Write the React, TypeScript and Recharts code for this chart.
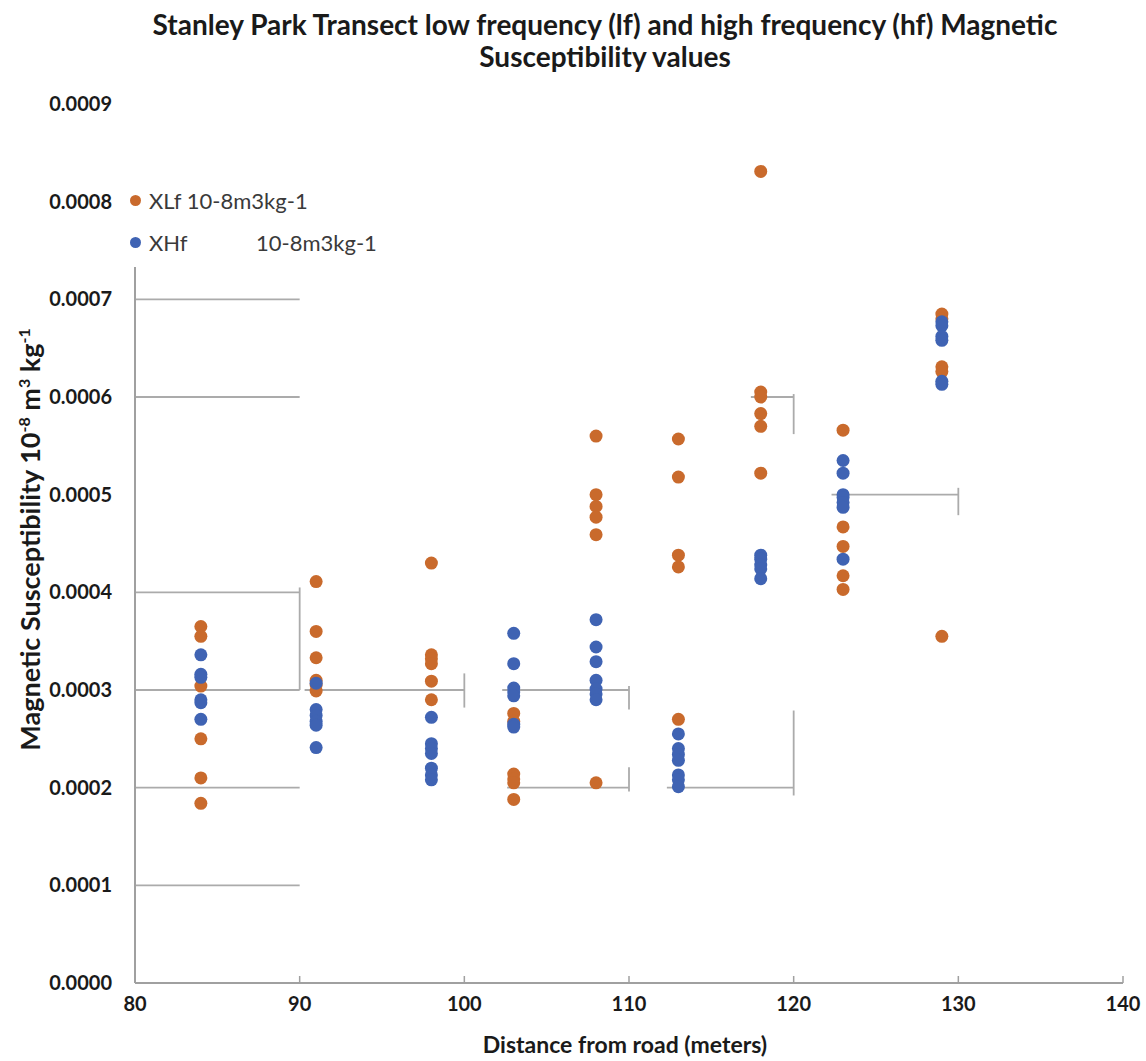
import React from "react";
import {
  ScatterChart,
  Scatter,
  XAxis,
  YAxis,
  ReferenceLine,
  Legend,
} from "recharts";

// Sampling positions along the transect (metres from the road)
const SITES = [84, 91, 98, 103, 108, 113, 118, 123, 129];

// Low-frequency susceptibility readings, one list per site
const XLF_READINGS = [
  [0.000365, 0.000355, 0.000304, 0.00025, 0.00021, 0.000184],
  [0.000411, 0.00036, 0.000333, 0.00031, 0.000305, 0.000299],
  [0.00043, 0.000336, 0.000332, 0.000327, 0.000309, 0.00029],
  [0.000276, 0.000268, 0.000214, 0.000209, 0.000205, 0.000188],
  [0.00056, 0.0005, 0.000488, 0.000477, 0.000459, 0.000205],
  [0.000557, 0.000518, 0.000438, 0.000426, 0.00027],
  [0.000831, 0.000605, 0.0006, 0.000583, 0.00057, 0.000522],
  [0.000566, 0.000467, 0.000447, 0.000417, 0.000403],
  [0.000685, 0.00068, 0.000631, 0.000626, 0.000355],
];

// High-frequency susceptibility readings, one list per site
const XHF_READINGS = [
  [0.000336, 0.000316, 0.000313, 0.00029, 0.000287, 0.00027],
  [0.000307, 0.00028, 0.000274, 0.000268, 0.000264, 0.000241],
  [0.000272, 0.000245, 0.00024, 0.000235, 0.00022, 0.000213, 0.000208],
  [0.000358, 0.000327, 0.000302, 0.000298, 0.000294, 0.000265, 0.000262],
  [0.000372, 0.000344, 0.000329, 0.00031, 0.000301, 0.000296, 0.00029],
  [0.000255, 0.00024, 0.000234, 0.000228, 0.000213, 0.000208, 0.000201],
  [0.000438, 0.000434, 0.000428, 0.000424, 0.000414],
  [0.000535, 0.000522, 0.0005, 0.000497, 0.000492, 0.000487, 0.000434],
  [0.000677, 0.000673, 0.000662, 0.000658, 0.000616, 0.000613],
];

const X_TICKS = [80, 90, 100, 110, 120, 130, 140];
const Y_TICKS = [0, 0.0001, 0.0002, 0.0003, 0.0004, 0.0005, 0.0006, 0.0007, 0.0008, 0.0009];

const XLF_NAME = "XLf 10-8m3kg-1";
const XHF_NAME = "XHf";
const XHF_UNIT = "10-8m3kg-1";

// Broken grid fragments as drawn on the chart: [x1, y1, x2, y2]
const GRID_SEGMENTS = [
  [80, 0.0007, 90, 0.0007],
  [80, 0.0006, 90, 0.0006],
  [80, 0.0004, 90, 0.0004],
  [80, 0.0003, 90, 0.0003],
  [80, 0.0002, 90, 0.0002],
  [80, 0.0001, 90, 0.0001],
  [90.3, 0.0003, 100, 0.0003],
  [102.3, 0.0003, 110, 0.0003],
  [102.6, 0.0002, 110, 0.0002],
  [112.3, 0.0002, 120, 0.0002],
  [117.4, 0.0006, 120, 0.0006],
  [122.3, 0.0005, 130, 0.0005],
  [90, 0.000405, 90, 0.0003],
  [100, 0.000317, 100, 0.000282],
  [110, 0.000304, 110, 0.00028],
  [110, 0.000221, 110, 0.000196],
  [120, 0.000279, 120, 0.000192],
  [120, 0.000603, 120, 0.000562],
  [130, 0.000507, 130, 0.000479],
];
// Vertical axis line stops short of the top of the plot
const Y_AXIS_SEGMENT = [80, 0, 80, 0.000733];

const ORANGE = "#C96A2C";
const BLUE = "#3F63B3";
const GRID = "#ABABAB";
const AXIS = "#A0A0A0";
const FONT = "Lato, 'Open Sans', sans-serif";
const X_TICK_MARGIN = 10;

const toPoints = (readings: number[][]) =>
  readings.flatMap((vals, i) => vals.map((v) => ({ x: SITES[i], y: v })));

const xlfData = toPoints(XLF_READINGS);
const xhfData = toPoints(XHF_READINGS);

const Dot = (color: string) => (props: any) =>
  <circle cx={props.cx} cy={props.cy} r={6.5} fill={color} />;

const XTick = (props: any) => {
  const { x, y, payload } = props;
  const axisY = y - X_TICK_MARGIN;
  return (
    <g>
      <line x1={x} x2={x} y1={axisY} y2={axisY - 7} stroke={AXIS} strokeWidth={1.5} />
      <text
        x={x}
        y={axisY + 28}
        textAnchor="middle"
        fontFamily={FONT}
        fontWeight={700}
        fontSize={20}
        fill="#1a1a1a"
      >
        {payload.value}
      </text>
    </g>
  );
};

const YTick = (props: any) => {
  const { y, payload } = props;
  return (
    <text
      x={112}
      y={y + 7}
      textAnchor="end"
      fontFamily={FONT}
      fontWeight={700}
      fontSize={20}
      fill="#1a1a1a"
    >
      {Number(payload.value).toFixed(4)}
    </text>
  );
};

const YTitle = (props: any) => {
  const vb = props.viewBox;
  const cx = 40;
  const cy = vb.y + vb.height / 2 - 4;
  return (
    <text
      x={cx}
      y={cy}
      transform={`rotate(-90 ${cx} ${cy})`}
      textAnchor="middle"
      fontFamily={FONT}
      fontWeight={700}
      fontSize={27}
      fill="#1a1a1a"
    >
      Magnetic Susceptibility 10
      <tspan fontSize={16} dy={-10}>-8</tspan>
      <tspan dy={10}> m</tspan>
      <tspan fontSize={16} dy={-10}>3</tspan>
      <tspan dy={10}> kg</tspan>
      <tspan fontSize={16} dy={-10}>-1</tspan>
    </text>
  );
};

const XTitle = (props: any) => {
  const vb = props.viewBox;
  return (
    <text
      x={vb.x + vb.width / 2 - 4}
      y={vb.y + 70}
      textAnchor="middle"
      fontFamily={FONT}
      fontWeight={700}
      fontSize={23}
      fill="#1a1a1a"
    >
      Distance from road (meters)
    </text>
  );
};

const LegendContent = () => {
  const row: React.CSSProperties = {
    display: "flex",
    alignItems: "center",
    height: 42,
    fontFamily: FONT,
    fontSize: 22,
    color: "#3a3a3a",
    whiteSpace: "nowrap",
  };
  const mark = (c: string): React.CSSProperties => ({
    width: 11,
    height: 11,
    borderRadius: "50%",
    background: c,
    marginRight: 8,
    flex: "none",
  });
  return (
    <div>
      <div style={row}>
        <span style={mark(ORANGE)} />
        <span>{XLF_NAME}</span>
      </div>
      <div style={row}>
        <span style={mark(BLUE)} />
        <span style={{ display: "inline-block", width: 107 }}>{XHF_NAME}</span>
        <span>{XHF_UNIT}</span>
      </div>
    </div>
  );
};

export default function App() {
  return (
    <div
      style={{
        position: "absolute",
        left: 0,
        top: 0,
        width: 1146,
        height: 1061,
        background: "#ffffff",
      }}
    >
      <div
        style={{
          position: "absolute",
          left: 64,
          top: 8,
          width: 1082,
          textAlign: "center",
          fontFamily: FONT,
          fontWeight: 700,
          fontSize: 28,
          lineHeight: "32px",
          color: "#1a1a1a",
        }}
      >
        Stanley Park Transect low frequency (lf) and high frequency (hf) Magnetic
        <br />
        Susceptibility values
      </div>
      <ScatterChart
        width={1146}
        height={1061}
        margin={{ top: 104, right: 23, bottom: 0, left: 0 }}
      >
        <XAxis
          type="number"
          dataKey="x"
          domain={[80, 140]}
          ticks={X_TICKS}
          interval={0}
          height={78}
          tickSize={0}
          tickMargin={X_TICK_MARGIN}
          tick={<XTick />}
          axisLine={{ stroke: AXIS, strokeWidth: 2 }}
          tickLine={false}
          label={<XTitle />}
        />
        <YAxis
          type="number"
          dataKey="y"
          domain={[0, 0.0009]}
          ticks={Y_TICKS}
          interval={0}
          width={135}
          tickSize={0}
          tick={<YTick />}
          axisLine={false}
          tickLine={false}
          label={<YTitle />}
        />
        {GRID_SEGMENTS.map((s, i) => (
          <ReferenceLine
            key={i}
            segment={[
              { x: s[0], y: s[1] },
              { x: s[2], y: s[3] },
            ]}
            stroke={GRID}
            strokeWidth={1.8}
            ifOverflow="visible"
          />
        ))}
        <ReferenceLine
          segment={[
            { x: Y_AXIS_SEGMENT[0], y: Y_AXIS_SEGMENT[1] },
            { x: Y_AXIS_SEGMENT[2], y: Y_AXIS_SEGMENT[3] },
          ]}
          stroke={AXIS}
          strokeWidth={2}
          ifOverflow="visible"
        />
        <Legend
          layout="horizontal"
          verticalAlign="middle"
          align="center"
          content={<LegendContent />}
          wrapperStyle={{ left: 130, top: 179, width: 320, height: 84 }}
        />
        <Scatter
          name={XLF_NAME}
          data={xlfData}
          fill={ORANGE}
          shape={Dot(ORANGE)}
          isAnimationActive={false}
        />
        <Scatter
          name={`${XHF_NAME} ${XHF_UNIT}`}
          data={xhfData}
          fill={BLUE}
          shape={Dot(BLUE)}
          isAnimationActive={false}
        />
      </ScatterChart>
    </div>
  );
}
